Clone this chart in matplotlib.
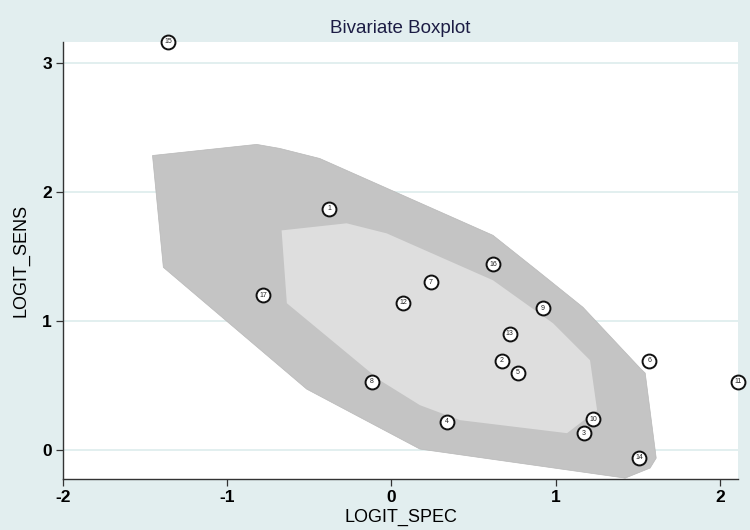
import numpy as np
import matplotlib.pyplot as plt
from matplotlib.patches import Polygon

# Study estimates (logit specificity, logit sensitivity)
study_ids = np.arange(1, 18)
logit_spec = [-0.38, 0.67, 1.17, 0.34, 0.77, 1.57, 0.24, -0.12, 0.92,
              1.23, 2.11, 0.07, 0.72, 1.51, -1.36, 0.62, -0.78]
logit_sens = [1.87, 0.69, 0.13, 0.22, 0.60, 0.69, 1.30, 0.53, 1.10,
              0.24, 0.53, 1.14, 0.90, -0.06, 3.16, 1.44, 1.20]

# Fence (outer) and hinge (inner) polygons
fence_x = [-1.455, -0.821, -0.681, -0.437, 0.618, 0.886, 1.166, 1.514, 1.545,
           1.612, 1.575, 1.423, 0.173, -0.516, -1.389]
fence_y = [2.281, 2.367, 2.336, 2.258, 1.663, 1.392, 1.106, 0.634, 0.596,
           -0.062, -0.139, -0.217, 0.008, 0.472, 1.415]
hinge_x = [-0.669, -0.273, -0.029, 0.618, 0.984, 1.209, 1.252, 1.069, 0.416,
           0.173, -0.071, -0.637]
hinge_y = [1.701, 1.756, 1.678, 1.315, 0.982, 0.696, 0.309, 0.131, 0.232,
           0.348, 0.541, 1.137]

x_ticks = [-2, -1, 0, 1, 2]
y_ticks = [0, 1, 2, 3]

plt.rcParams['font.family'] = ['Liberation Sans', 'DejaVu Sans']
plt.rcParams['axes.unicode_minus'] = False

bg = '#e2eeef'
fig = plt.figure(figsize=(7.5, 5.3), dpi=100, facecolor=bg)
ax = fig.add_axes([0.084, 0.0962, 0.9, 0.8246])
ax.set_facecolor('white')

# Polygons
ax.add_patch(Polygon(np.column_stack([fence_x, fence_y]), closed=True,
                     facecolor='#c4c4c4', edgecolor='#b8b8b8', lw=0.5, zorder=1))
ax.add_patch(Polygon(np.column_stack([hinge_x, hinge_y]), closed=True,
                     facecolor='#dedede', edgecolor='none', zorder=2))

# Markers with labels inside
ax.scatter(logit_spec, logit_sens, s=100, facecolors='white', edgecolors='#111111',
           linewidths=1.4, zorder=4, clip_on=False)
for i, xv, yv in zip(study_ids, logit_spec, logit_sens):
    ax.text(xv, yv, str(i), fontsize=5, ha='center', va='center',
            color='#222222', zorder=5, clip_on=False)

ax.set_xlim(-2, 2.11)
ax.set_ylim(-0.224, 3.16)
ax.set_xticks(x_ticks)
ax.set_yticks(y_ticks)
ax.grid(axis='y', color='#dfeeee', lw=1.3, zorder=0)
ax.set_axisbelow(True)

for s in ['top', 'right']:
    ax.spines[s].set_visible(False)
for s in ['left', 'bottom']:
    ax.spines[s].set_color('#333333')
    ax.spines[s].set_linewidth(1.0)
ax.tick_params(direction='out', length=5, width=0.9, colors='#333333',
               labelsize=12.5, labelcolor='black', pad=3)
for lbl in ax.get_xticklabels() + ax.get_yticklabels():
    lbl.set_fontweight('bold')

ax.set_xlabel('LOGIT_SPEC', fontsize=13, labelpad=3)
ax.set_ylabel('LOGIT_SENS', fontsize=13, labelpad=9)
fig.text(0.533, 0.947, 'Bivariate Boxplot', fontsize=13.5, color='#1c1c44',
         ha='center', va='center')

fig.savefig('out.png', dpi=100, facecolor=bg)
